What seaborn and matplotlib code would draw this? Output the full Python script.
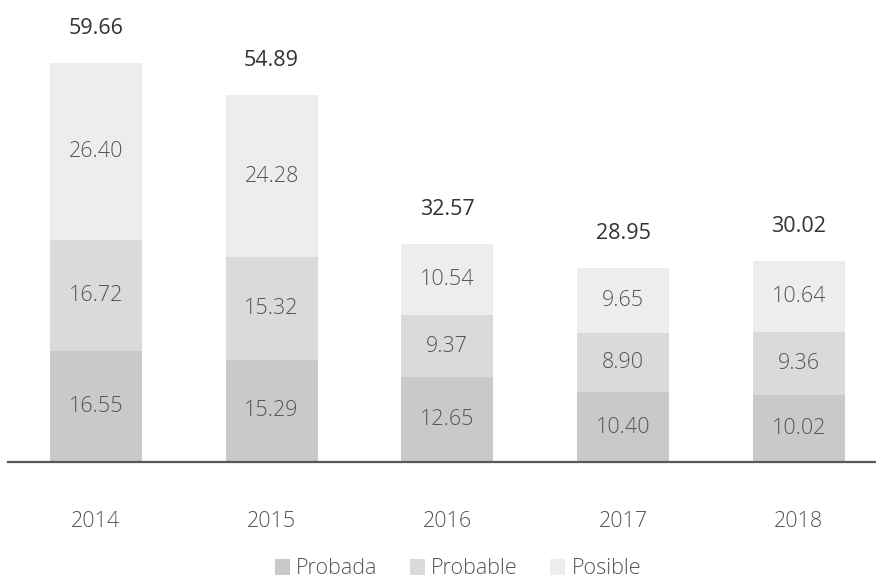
import matplotlib
matplotlib.use("Agg")
import matplotlib.pyplot as plt
from matplotlib.patches import Patch
import numpy as np
import pandas as pd
import seaborn as sns

# Reserves by year (three categories, stacked)
years = ["2014", "2015", "2016", "2017", "2018"]
probada = [16.55, 15.29, 12.65, 10.40, 10.02]
probable = [16.72, 15.32, 9.37, 8.90, 9.36]
posible = [26.40, 24.28, 10.54, 9.65, 10.64]
totals = [59.66, 54.89, 32.57, 28.95, 30.02]

series_names = ["Probada", "Probable", "Posible"]
series_colors = ["#c9c9c9", "#dadada", "#ededed"]

sns.set_theme(style="white")
plt.rcParams["font.family"] = ["Open Sans", "DejaVu Sans"]

text_gray = "#555555"
total_color = "#333333"

fig = plt.figure(figsize=(8.76, 5.81), dpi=100)
ax = fig.add_axes([8 / 876, 119 / 581, 1 - 8 / 876, 462 / 581])

df = pd.DataFrame({"year": years, "Probada": probada,
                   "Probable": probable, "Posible": posible})
bottoms = np.zeros(len(years))
for name, color in zip(series_names, series_colors):
    sns.barplot(data=df, x="year", y=name, color=color, width=0.524,
                bottom=bottoms.copy(), ax=ax, saturation=1, linewidth=0)
    bottoms = bottoms + df[name].to_numpy()

for cont, name in zip(ax.containers, series_names):
    ax.bar_label(cont, labels=[f"{v:.2f}" for v in df[name]],
                 label_type="center", color=text_gray, fontsize=15.5,
                 fontweight="light")

for i, t in enumerate(totals):
    ax.annotate(f"{t:.2f}", xy=(i, t), xytext=(0, 25),
                textcoords="offset points", ha="center", va="center",
                color=total_color, fontsize=15.5)

ax.set_xlim(-0.5, 4.44)
ax.set_ylim(0, 69.1)
ax.set_xlabel("")
ax.set_ylabel("")
ax.set_yticks([])
ax.tick_params(axis="x", length=0, pad=35, labelsize=15.5, labelcolor=text_gray)
for lab in ax.get_xticklabels():
    lab.set_fontweight("light")
for side in ["top", "right", "left"]:
    ax.spines[side].set_visible(False)
ax.spines["bottom"].set_color("#595959")
ax.spines["bottom"].set_linewidth(1.6)

handles = [Patch(facecolor=c, edgecolor="none", label=n)
           for n, c in zip(series_names, series_colors)]
leg = fig.legend(handles=handles, loc="center", bbox_to_anchor=(458 / 876, 12 / 581),
                 ncol=3, frameon=False, fontsize=15.5, labelcolor=text_gray,
                 handlelength=0.7, handleheight=0.7, handletextpad=0.3,
                 columnspacing=1.5)
for txt in leg.get_texts():
    txt.set_fontweight("light")

fig.savefig("out.png", dpi=100)
